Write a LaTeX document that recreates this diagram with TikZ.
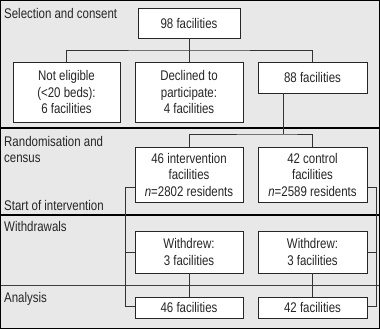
\documentclass[tikz,border=0pt]{standalone}
\usepackage{fontspec}
\setmainfont[FakeStretch=0.82]{Liberation Sans}
\begin{document}
\begin{tikzpicture}[x=1pt,y=-1pt,
  box/.style={draw=black!85,fill=white,line width=0.8pt,align=center,inner sep=0pt,
    text=black!85,font=\fontsize{14}{16.5}\selectfont},
  lbl/.style={anchor=base west,inner sep=0pt,font=\fontsize{14}{16.5}\selectfont,text=black!85},
  conn/.style={draw=black!80,line width=0.8pt},
  band/.style={draw=black,line width=1.6pt},
  thinband/.style={draw=black!75,line width=0.7pt}]
\useasboundingbox (0,0) rectangle (380,329);
\fill[black!9] (0,0) rectangle (380,329);
% band separators
\draw[band] (0,128) -- (380,128);
\draw[band] (0,215) -- (380,215);
\draw[thinband] (0,285.5) -- (380,285.5);
% section labels
\node[lbl] (l1) at (4,19) {Selection and consent};
\node[lbl] (l2) at (4,146) {Randomisation and};
\node[lbl] (l3) at (4,162) {census};
\node[lbl] (l4) at (4,210) {Start of intervention};
\node[lbl] (l5) at (4,231) {Withdrawals};
\node[lbl] (l6) at (4,302) {Analysis};
% boxes
\node[box,minimum width=102pt,minimum height=30pt] (top) at (189,23) {98 facilities};
\node[box,minimum width=107pt,minimum height=60pt] (ne) at (66.5,92) {Not eligible\\(<20 beds):\\6 facilities};
\node[box,minimum width=108pt,minimum height=60pt] (dec) at (189,92) {Declined to\\participate:\\4 facilities};
\node[box,minimum width=109pt,minimum height=31pt] (e88) at (312.5,77.5) {88 facilities};
\node[box,minimum width=108pt,minimum height=55pt] (int) at (189,174.5) {46 intervention\\facilities\\\textit{n}=2802 residents};
\node[box,minimum width=109pt,minimum height=55pt] (ctl) at (312.5,174.5) {42 control\\facilities\\\textit{n}=2589 residents};
\node[box,minimum width=108pt,minimum height=42pt] (wi) at (189,252) {Withdrew:\\3 facilities};
\node[box,minimum width=109pt,minimum height=42pt] (wc) at (312.5,252) {Withdrew:\\3 facilities};
\node[box,minimum width=108pt,minimum height=21pt] (ai) at (189,307.5) {46 facilities};
\node[box,minimum width=109pt,minimum height=21pt] (ac) at (312.5,307.5) {42 facilities};
% coordinates
\coordinate (b1) at (189,50);
\coordinate (s88) at (283,134);
\coordinate (lx) at (125,0);
\coordinate (rx) at (376,0);
% connectors
\draw[conn] (top.south) -- (dec.north);
\draw[conn] (ne.north) |- (b1) -| (e88.north);
\draw[conn] (s88 |- e88.south) -- (s88);
\draw[conn] (int.north) |- (s88) -| (ctl.north);
\draw[conn] ([yshift=-12.5pt]int.west) -| ([yshift=1.5pt]lx |- ai.west) -- ([yshift=1.5pt]ai.west);
\draw[conn] (lx |- wi.west) -- (wi.west);
\draw[conn] ([yshift=-12.5pt]ctl.east) -| ([yshift=1.5pt]rx |- ac.east) -- ([yshift=1.5pt]ac.east);
\draw[conn] (rx |- wc.east) -- (wc.east);
\draw[conn] (wi.south) -- (ai.north);
\draw[conn] (wc.south) -- (ac.north);
% outer border
\draw[black,line width=1pt] (0.5,0.5) rectangle (379.5,328.5);
\end{tikzpicture}
\end{document}
